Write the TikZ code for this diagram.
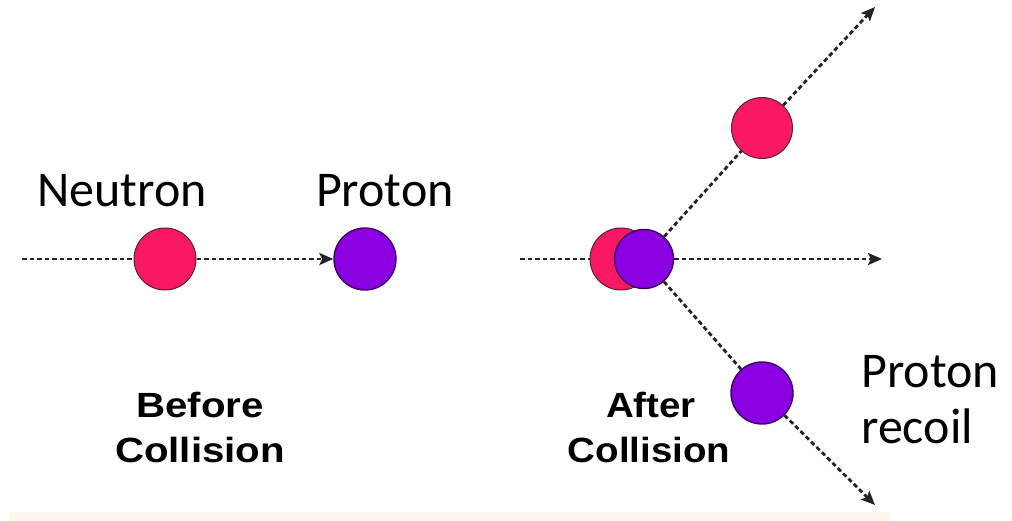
\documentclass[tikz,border=0pt]{standalone}
\usepackage{fontspec}
\usepackage{graphicx}
\usetikzlibrary{arrows.meta}
\newfontfamily\labelfont{Carlito}
\newfontfamily\capfont{Liberation Sans}
\definecolor{neutronred}{RGB}{250,24,100}
\definecolor{protonviolet}{RGB}{138,0,226}
\definecolor{protonrim}{RGB}{60,0,95}
\definecolor{neutronrim}{RGB}{80,35,55}
\definecolor{traildark}{RGB}{35,35,35}
\definecolor{stripfill}{RGB}{255,247,238}

\begin{document}
\begin{tikzpicture}[x=1pt,y=-1pt,
  neutron/.style={circle,fill=neutronred,draw=neutronrim,line width=1pt,
    minimum size=62pt,inner sep=0pt},
  proton/.style={circle,fill=protonviolet,draw=protonrim,line width=1.4pt,
    minimum size=62pt,inner sep=0pt},
  trail/.style={draw=traildark,line width=2.8pt,dash pattern=on 4.5pt off 3pt},
  trailtip/.style={trail,-{Stealth[length=14pt,width=12pt,inset=3pt]}},
  biglabel/.style={font=\labelfont\fontsize{50}{56}\selectfont,inner sep=0pt},
  caplabel/.style={font=\capfont\bfseries\fontsize{35}{40}\selectfont,inner sep=0pt,anchor=base}
]
\useasboundingbox (0,0) rectangle (1012,521);
\fill[white] (0,0) rectangle (1012,521);

% faint strip along the lower edge
\fill[stripfill] (10,512) rectangle (890,521);

% ---- before the collision ----
\coordinate (inA) at (22,259);
\node[neutron] (nA) at (165,259) {};
\node[proton] (pA) at (365,259) {};
\draw[trail] (inA) -- (nA.west);
\draw[trailtip] (nA.east) -- (pA.west);

% ---- after the collision ----
\coordinate (inB) at (520,259);
\coordinate (outMid) at (882,259);
\coordinate (outUp) at (875,7);
\coordinate (outDown) at (875,505);
\node[neutron] (nB) at (621,259) {};
\node[proton,minimum size=59pt] (pB) at (644,259) {};
\node[neutron,minimum size=61pt] (nUp) at (762,128) {};
\node[proton] (pDown) at (762,393) {};
\draw[trail] (inB) -- (nB.west);
\draw[trailtip] (pB.east) -- (outMid);
\draw[trail] (pB) -- (nUp);
\draw[trailtip] (nUp) -- (outUp);
\draw[trail] (pB) -- (pDown);
\draw[trailtip] (pDown) -- (outDown);

% ---- labels ----
\node[biglabel,anchor=base] (lNeutron) at (122,207) {Neutron};
\node[biglabel,anchor=base] (lProton) at (385,207) {Proton};
\node[biglabel,anchor=base west] (lRecoilA) at (861,387) {Proton};
\node[biglabel,anchor=base west] (lRecoilB) at (861,443) {recoil};

\node[caplabel] (lBefore) at (200,417) {\scalebox{1.15}[1]{Before}};
\node[caplabel] (lBeforeB) at (200,462) {\scalebox{1.15}[1]{Collision}};
\node[caplabel] (lAfter) at (651,417) {\scalebox{1.1}[1]{After}};
\node[caplabel] (lAfterB) at (649,462) {\scalebox{1.1}[1]{Collision}};
\end{tikzpicture}
\end{document}
